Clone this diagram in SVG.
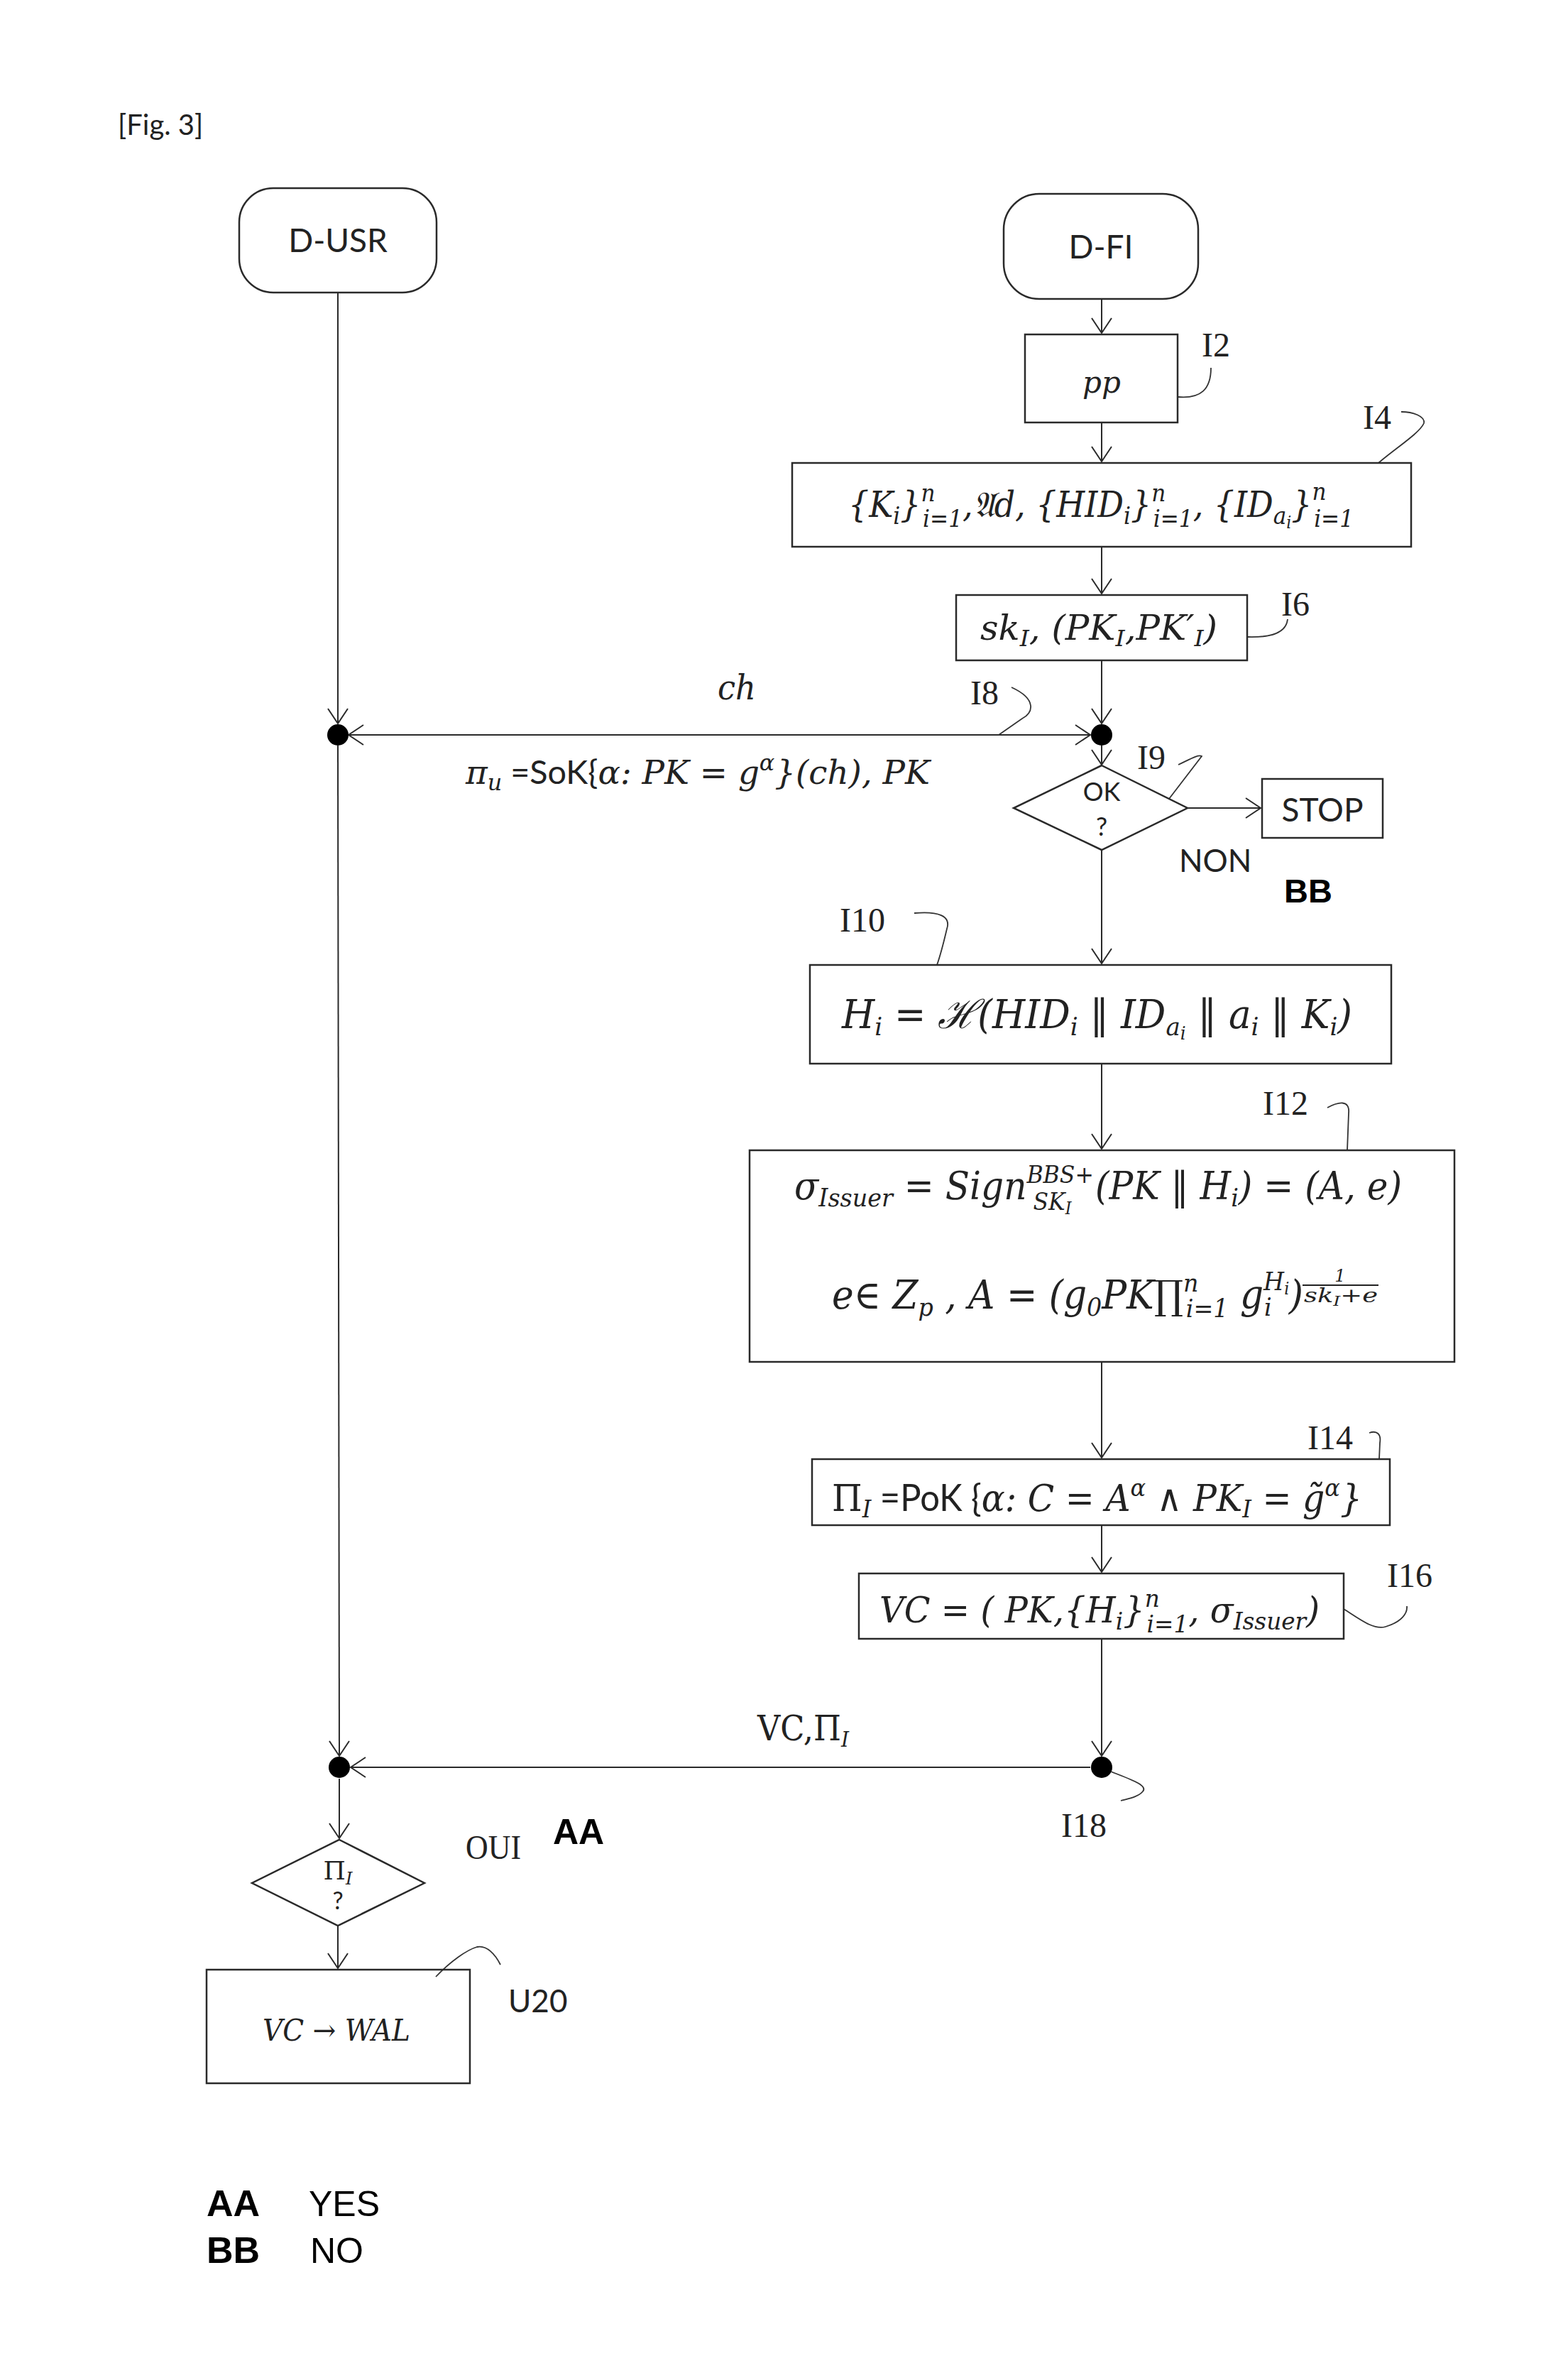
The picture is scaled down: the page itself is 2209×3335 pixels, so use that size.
<svg xmlns="http://www.w3.org/2000/svg" width="2209" height="3335" viewBox="0 0 2209 3335">
<style>
.box{fill:none;stroke:#2a2a2a;stroke-width:2.5}
.conn{fill:none;stroke:#2a2a2a;stroke-width:2;marker-end:url(#arr)}
.lead{fill:none;stroke:#333;stroke-width:1.8}
.dot{fill:#000}
.mi{font-family:"DejaVu Serif","Liberation Serif",serif;font-style:italic}
.rm{font-family:"DejaVu Serif","Liberation Serif",serif;font-style:normal}
.lbl{font-family:"Liberation Serif",serif;font-size:48px;fill:#222}
.sans{font-family:Lato,"Liberation Sans",sans-serif;fill:#222}
.bold{font-family:"Liberation Sans",Arial,sans-serif;font-weight:bold;fill:#000}
.reg{font-family:"Liberation Sans",Arial,sans-serif;fill:#000}
text{fill:#222}
</style>
<defs>
<marker id="arr" viewBox="-24 -16 26 32" markerWidth="26" markerHeight="32" refX="0" refY="0" orient="auto" markerUnits="userSpaceOnUse">
<path d="M-21,-14 L0,0 L-21,14" fill="none" stroke="#2a2a2a" stroke-width="2"/>
</marker>
<marker id="arrs" viewBox="-24 -16 26 32" markerWidth="26" markerHeight="32" refX="0" refY="0" orient="auto-start-reverse" markerUnits="userSpaceOnUse">
<path d="M-21,-14 L0,0 L-21,14" fill="none" stroke="#2a2a2a" stroke-width="2"/>
</marker>
</defs>
<rect width="2209" height="3335" fill="#fff"/>

<text class="sans" x="166" y="190" font-size="40">[Fig. 3]</text>

<g id="connectors">
<path class="conn" d="M1552,421 V469"/>
<path class="conn" d="M1552,595 V650"/>
<path class="conn" d="M1552,770 V836"/>
<path class="conn" d="M1552,930 V1019"/>
<path class="conn" d="M491,1035 H1536" marker-start="url(#arrs)"/>
<path class="conn" d="M1552,1050 V1077"/>
<path class="conn" d="M1673,1138 H1776"/>
<path class="conn" d="M1552,1197 V1357"/>
<path class="conn" d="M1552,1498 V1618"/>
<path class="conn" d="M1552,1918 V2053"/>
<path class="conn" d="M1552,2148 V2214"/>
<path class="conn" d="M1552,2308 V2473"/>
<path class="conn" d="M1536,2489 H494"/>
<path class="conn" d="M476,412 V1019"/>
<path class="conn" d="M476,1050 L478,2473"/>
<path class="conn" d="M478,2505 V2589"/>
<path class="conn" d="M476,2712 V2772"/>
<circle class="dot" cx="476" cy="1035" r="15"/>
<circle class="dot" cx="1552" cy="1035" r="15"/>
<circle class="dot" cx="1552" cy="2489" r="15"/>
<circle class="dot" cx="478" cy="2489" r="15"/>
</g>

<g id="leaders">
<path class="lead" d="M1659,559 C1692,562 1706,548 1706,518"/>
<path class="lead" d="M1942,652 C1965,632 2000,610 2006,596 C2008,586 1990,580 1974,580"/>
<path class="lead" d="M1757,897 C1790,898 1812,892 1814,872"/>
<path class="lead" d="M1425,968 C1462,985 1455,1005 1440,1012 L1407,1035"/>
<path class="lead" d="M1660,1077 C1675,1070 1688,1062 1693,1065 L1647,1125"/>
<path class="lead" d="M1288,1286 C1322,1283 1340,1290 1334,1308 C1330,1325 1325,1345 1320,1359"/>
<path class="lead" d="M1870,1560 C1885,1552 1902,1548 1900,1568 L1898,1620"/>
<path class="lead" d="M1929,2018 C1940,2014 1946,2020 1944,2032 L1943,2055"/>
<path class="lead" d="M1893,2266 C1915,2280 1935,2296 1952,2291 C1975,2284 1983,2272 1982,2262"/>
<path class="lead" d="M1565,2495 C1590,2505 1618,2514 1610,2523 C1603,2531 1590,2533 1579,2536"/>
<path class="lead" d="M614,2784 C635,2762 658,2746 672,2742 C686,2739 698,2753 705,2767"/>
</g>

<g id="D-USR">
<rect class="box" x="337" y="265" width="278" height="147" rx="48"/>
<text class="sans" x="476" y="355" font-size="46" text-anchor="middle">D-USR</text>
</g>

<g id="D-FI">
<rect class="box" x="1414" y="273" width="274" height="148" rx="50"/>
<text class="sans" x="1551" y="364" font-size="46" text-anchor="middle">D-FI</text>
</g>

<g id="I2">
<rect class="box" x="1444" y="471" width="215" height="124"/>
<text class="mi" x="1552" y="553" font-size="42" text-anchor="middle">pp</text>
<text class="lbl" x="1693" y="502">I2</text>
</g>

<g id="I4">
<rect class="box" x="1116" y="652" width="872" height="118"/>
<text class="mi" x="1195" y="728" font-size="50" textLength="712" lengthAdjust="spacingAndGlyphs">{K<tspan font-size="34" dy="10">i</tspan><tspan dy="-10">}</tspan><tspan font-size="34" dy="-22">n</tspan><tspan font-size="34" dx="-19" dy="36">i=1</tspan><tspan dy="-14">,𝔄d, {HID</tspan><tspan font-size="34" dy="10">i</tspan><tspan dy="-10">}</tspan><tspan font-size="34" dy="-22">n</tspan><tspan font-size="34" dx="-19" dy="36">i=1</tspan><tspan dy="-14">, {ID</tspan><tspan font-size="34" dy="10">a</tspan><tspan font-size="24" dy="6">i</tspan><tspan dy="-16">}</tspan><tspan font-size="34" dy="-24">n</tspan><tspan font-size="34" dx="-19" dy="38">i=1</tspan></text>
<text class="lbl" x="1920" y="604">I4</text>
</g>

<g id="I6">
<rect class="box" x="1347" y="838" width="410" height="92"/>
<text class="mi" x="1381" y="901" font-size="48" textLength="334" lengthAdjust="spacingAndGlyphs">sk<tspan font-size="32" dy="9">I</tspan><tspan dy="-9">, (PK</tspan><tspan font-size="32" dy="9">I</tspan><tspan dy="-9">,PK′</tspan><tspan font-size="32" dy="9">I</tspan><tspan dy="-9">)</tspan></text>
<text class="lbl" x="1805" y="867">I6</text>
</g>

<g id="I8">
<text class="mi" x="1011" y="985" font-size="48" textLength="54" lengthAdjust="spacingAndGlyphs">ch</text>
<text x="656" y="1104" font-size="47" textLength="654" lengthAdjust="spacingAndGlyphs"><tspan class="mi">π</tspan><tspan class="mi" font-size="32" dy="9">u</tspan><tspan class="sans" dy="-9"> =SoK{</tspan><tspan class="mi">α: PK = g</tspan><tspan class="mi" font-size="32" dy="-19">α</tspan><tspan class="mi" dy="19">}(ch), PK</tspan></text>
<text class="lbl" x="1367" y="992">I8</text>
</g>

<g id="I9">
<polygon class="box" points="1552,1078 1673,1138 1552,1197 1428,1138"/>
<text class="sans" x="1552" y="1128" font-size="36" text-anchor="middle">OK</text>
<text class="sans" x="1552" y="1177" font-size="36" text-anchor="middle">?</text>
<text class="lbl" x="1602" y="1083">I9</text>
<text class="sans" x="1661" y="1228" font-size="44">NON</text>
<text class="bold" x="1809" y="1271" font-size="47">BB</text>
</g>

<g id="STOP">
<rect class="box" x="1778" y="1097" width="170" height="83"/>
<text class="sans" x="1863" y="1157" font-size="46" text-anchor="middle">STOP</text>
</g>

<g id="I10">
<rect class="box" x="1141" y="1359" width="819" height="139"/>
<text class="mi" x="1186" y="1448" font-size="56" textLength="719" lengthAdjust="spacingAndGlyphs">H<tspan font-size="36" dy="10">i</tspan><tspan dy="-10"> = ℋ(HID</tspan><tspan font-size="36" dy="10">i</tspan><tspan class="rm" dy="-10"> ‖ </tspan><tspan>ID</tspan><tspan font-size="36" dy="10">a</tspan><tspan font-size="26" dy="6">i</tspan><tspan class="rm" dy="-16"> ‖ </tspan><tspan>a</tspan><tspan font-size="36" dy="10">i</tspan><tspan class="rm" dy="-10"> ‖ </tspan><tspan>K</tspan><tspan font-size="36" dy="10">i</tspan><tspan dy="-10">)</tspan></text>
<text class="lbl" x="1183" y="1312">I10</text>
</g>

<g id="I12">
<rect class="box" x="1056" y="1620" width="993" height="298"/>
<text class="mi" x="1119" y="1689" font-size="54" textLength="856" lengthAdjust="spacingAndGlyphs">σ<tspan font-size="36" dy="10">Issuer</tspan><tspan dy="-10"> = Sign</tspan><tspan font-size="34" dy="-23">BBS+</tspan><tspan font-size="34" dx="-92" dy="38">SK</tspan><tspan font-size="24" dy="6">I</tspan><tspan dx="36" dy="-21">(PK </tspan><tspan class="rm">‖</tspan><tspan> H</tspan><tspan font-size="36" dy="10">i</tspan><tspan dy="-10">) = (A, e)</tspan></text>
<text class="mi" x="1172" y="1843" font-size="56" textLength="664" lengthAdjust="spacingAndGlyphs">e<tspan class="rm">∈ </tspan><tspan>Z</tspan><tspan font-size="36" dy="10">p</tspan><tspan dy="-10"> , A = (g</tspan><tspan font-size="36" dy="10">0</tspan><tspan dy="-10">PK</tspan><tspan class="rm">∏</tspan><tspan font-size="36" dy="-24">n</tspan><tspan font-size="36" dx="-19" dy="36">i=1</tspan><tspan dy="-12"> g</tspan><tspan font-size="36" dy="-26">H</tspan><tspan font-size="24" dy="6">i</tspan><tspan font-size="36" dx="-38" dy="30">i</tspan><tspan dx="26" dy="-10">)</tspan></text>
<line x1="1835" y1="1810" x2="1942" y2="1810" stroke="#222" stroke-width="2"/>
<text class="mi" x="1888" y="1805" font-size="24" text-anchor="middle">1</text>
<text class="mi" x="1837" y="1834" font-size="28" textLength="104" lengthAdjust="spacingAndGlyphs">sk<tspan font-size="19" dy="5">I</tspan><tspan dy="-5">+e</tspan></text>
<text class="lbl" x="1779" y="1570">I12</text>
</g>

<g id="I14">
<rect class="box" x="1144" y="2055" width="814" height="93"/>
<text x="1172" y="2128" font-size="52" textLength="747" lengthAdjust="spacingAndGlyphs"><tspan class="rm">Π</tspan><tspan class="mi" font-size="34" dy="9">I</tspan><tspan class="sans" dy="-9"> =PoK {</tspan><tspan class="mi">α: C = A</tspan><tspan class="mi" font-size="34" dy="-21">α</tspan><tspan class="rm" dy="21"> ∧ </tspan><tspan class="mi">PK</tspan><tspan class="mi" font-size="34" dy="9">I</tspan><tspan class="mi" dy="-9"> = g̃</tspan><tspan class="mi" font-size="34" dy="-21">α</tspan><tspan class="mi" dy="21">}</tspan></text>
<text class="lbl" x="1842" y="2041">I14</text>
</g>

<g id="I16">
<rect class="box" x="1210" y="2216" width="683" height="92"/>
<text class="mi" x="1239" y="2285" font-size="50" textLength="620" lengthAdjust="spacingAndGlyphs">VC = ( PK,{H<tspan font-size="34" dy="10">i</tspan><tspan dy="-10">}</tspan><tspan font-size="34" dy="-22">n</tspan><tspan font-size="34" dx="-19" dy="36">i=1</tspan><tspan dy="-14">, σ</tspan><tspan font-size="34" dy="10">Issuer</tspan><tspan dy="-10">)</tspan></text>
<text class="lbl" x="1954" y="2235">I16</text>
</g>

<g id="I18">
<text x="1067" y="2451" font-size="48" textLength="129" lengthAdjust="spacingAndGlyphs"><tspan class="rm">VC,Π</tspan><tspan class="mi" font-size="30" dy="9">I</tspan></text>
<text class="lbl" x="1495" y="2587">I18</text>
</g>

<g id="U-check">
<polygon class="box" points="478,2591 598,2652 476,2712 355,2652"/>
<text x="476" y="2647" font-size="36" text-anchor="middle"><tspan class="rm">Π</tspan><tspan class="mi" font-size="24" dy="7">I</tspan></text>
<text class="sans" x="476" y="2689" font-size="34" text-anchor="middle">?</text>
<text class="lbl" x="656" y="2618" textLength="78" lengthAdjust="spacingAndGlyphs">OUI</text>
<text class="bold" x="779" y="2597" font-size="50">AA</text>
</g>

<g id="U20">
<rect class="box" x="291" y="2774" width="371" height="160"/>
<text class="mi" x="370" y="2874" font-size="42" textLength="208" lengthAdjust="spacingAndGlyphs">VC <tspan class="rm">→</tspan> WAL</text>
<text class="sans" x="716" y="2834" font-size="44">U20</text>
</g>

<g id="legend">
<text class="bold" x="291" y="3121" font-size="52">AA</text>
<text class="reg" x="435" y="3121" font-size="50">YES</text>
<text class="bold" x="291" y="3187" font-size="52">BB</text>
<text class="reg" x="437" y="3187" font-size="50">NO</text>
</g>
</svg>
